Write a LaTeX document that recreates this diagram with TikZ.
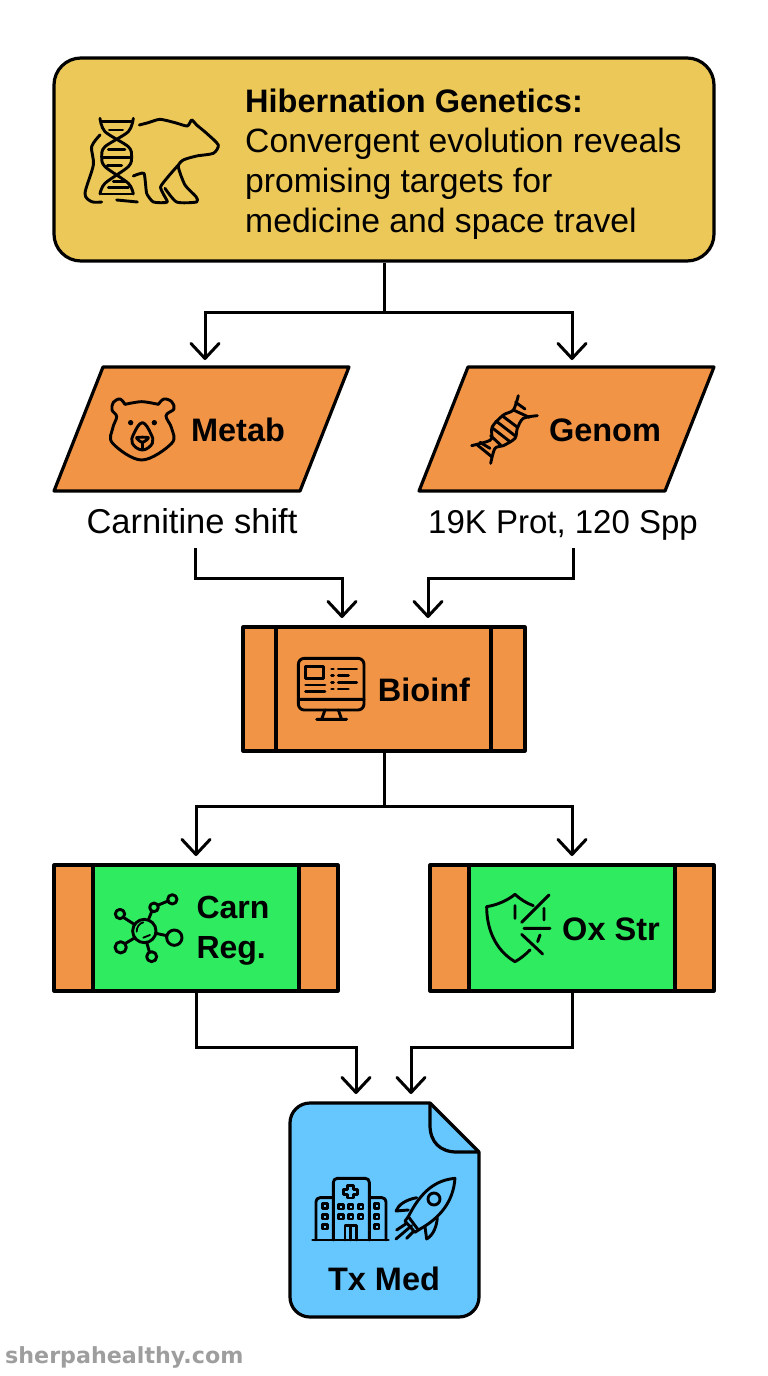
\documentclass[tikz,border=0pt]{standalone}
\usepackage{fontspec}
\setmainfont{Liberation Sans}
\newfontfamily\markfont{DejaVu Sans}
\usetikzlibrary{arrows.meta, positioning}

\definecolor{hypyellow}{HTML}{ECC858}
\definecolor{stepor}{HTML}{F19445}
\definecolor{regreen}{HTML}{2EEB60}
\definecolor{medblue}{HTML}{66C7FF}

\tikzset{
  outline/.style={draw=black, line width=3.2pt, line join=round},
  proc/.style={outline, fill=stepor, inner sep=0pt},
  icon/.style={line width=2.9pt, line cap=round, line join=round},
  lbl/.style={font=\fontsize{32.5}{38}\selectfont\bfseries, inner sep=0pt},
  captxt/.style={font=\fontsize{33}{38}\selectfont, inner sep=0pt, anchor=base},
  link/.style={line width=3pt, ->},
  zoomed/.style={x=0.3333pt, y=-0.3333pt}
}

\begin{document}
\begin{tikzpicture}[x=1pt, y=-1pt, >={Straight Barb[length=15pt, width=28pt, line width=3pt, round]}]
\useasboundingbox (0,0) rectangle (768,1376);

% Top box
\node[outline, fill=hypyellow, rounded corners=27pt, minimum width=660pt, minimum height=203pt] (hyp) at (384,159.5) {};
\node[anchor=north west, align=left, inner sep=0pt, font=\fontsize{33.7}{39.8}\selectfont] (hyptxt) at (245,89) {{\fontsize{32.5}{39.8}\selectfont\bfseries Hibernation Genetics:}\\Convergent evolution reveals\\promising targets for\\medicine and space travel};

\begin{scope}[shift={(50,50)}, zoomed]
\draw[icon] plot[smooth] coordinates {(150,205) (165,245) (235,290) (245,320) (235,350) (165,400) (150,432)};
\draw[icon] plot[smooth] coordinates {(250,205) (235,245) (165,290) (155,320) (165,350) (235,400) (250,432)};
\draw[icon] (155,215) -- (245,215) (178,240) -- (218,240) (175,298) -- (225,298) (158,322) -- (245,322) (172,346) -- (215,346) (190,395) -- (225,395) (175,412) -- (235,412) (155,432) -- (248,432);
\draw[icon] plot[smooth] coordinates {(150,255) (125,290) (130,345) (105,430) (125,455) (155,456)};
\draw[icon] (200,450) -- (262,456);
\draw[icon] plot[smooth, tension=0.4] coordinates {(268,225) (295,218) (330,208) (375,218) (412,228) (425,210) (440,225) (470,250) (505,285) (490,310) (440,318) (400,330) (385,350) (405,405) (438,440) (440,456) (380,456) (345,415)};
\draw[icon] plot[smooth, tension=0.3] coordinates {(250,378) (282,370) (290,430) (310,456) (352,456) (332,410) (385,345)};
\end{scope}

% Left input
\draw[outline, fill=stepor] (103,367) -- (349,367) -- (300,491) -- (54,491) -- cycle;
\node[lbl] (metab) at (238,430) {Metab};
\node[captxt, font=\fontsize{34.5}{38}\selectfont] (carnit) at (192,533) {Carnitine shift};

\begin{scope}[shift={(90,385)}, zoomed]
\draw[icon] plot[smooth, tension=0.6] coordinates {(105,58) (90,42) (70,52) (66,75) (80,95) (68,130) (68,175) (155,225) (245,175) (245,130) (228,92) (252,72) (245,50) (222,42) (205,58)};
\draw[icon] plot[smooth] coordinates {(105,58) (155,50) (205,58)};
\fill (122,113) circle[radius=8];
\fill (193,113) circle[radius=8];
\draw[icon] plot[smooth cycle, tension=0.7] coordinates {(157,113) (132,145) (127,175) (157,195) (187,175) (182,145)};
\draw[icon] plot[smooth cycle, tension=0.5] coordinates {(140,158) (175,158) (157,172)};
\draw[icon] (157,172) -- (157,190);
\end{scope}

% Right input
\draw[outline, fill=stepor] (468,367) -- (714,367) -- (665,491) -- (419,491) -- cycle;
\node[lbl] (genom) at (605,430) {Genom};
\node[captxt] (prot) at (563,533) {19K Prot, 120 Spp};

\begin{scope}[shift={(460,385)}, zoomed]
\draw[icon] plot[smooth, tension=0.5] coordinates {(175,32) (160,75) (130,90) (97,125) (95,160) (80,170) (35,182)};
\draw[icon] plot[smooth, tension=0.5] coordinates {(232,92) (190,100) (172,130) (165,160) (130,182) (105,190) (92,235)};
\draw[icon] (130,95) -- (170,125) (108,108) -- (165,152) (96,128) -- (150,170) (92,152) -- (122,180);
\draw[icon] (167,52) -- (195,72) (160,75) -- (208,97) (60,172) -- (90,190) (52,180) -- (95,215);
\end{scope}

% Middle step
\node[proc, minimum width=282pt, minimum height=124pt] (bioinf) at (384,689) {};
\node[proc, minimum width=215pt, minimum height=124pt] (bioinfin) at (383.5,689) {};
\node[lbl] (bioinftxt) at (424,690) {Bioinf};

\begin{scope}[shift={(240,620)}, zoomed]
\draw[icon, rounded corners=6pt] (175,115) rectangle (372,270);
\draw[icon] (175,238) -- (372,238) (255,270) -- (245,298) (295,270) -- (305,298) (230,298) -- (320,298);
\draw[icon] (197,140) rectangle (250,175);
\draw[icon] (197,195) -- (255,195) (197,215) -- (255,215);
\draw[icon] (275,147) -- (280,147) (275,167) -- (280,167) (275,187) -- (280,187) (275,207) -- (280,207);
\draw[icon] (295,147) -- (350,147) (295,167) -- (325,167) (295,187) -- (350,187) (295,207) -- (325,207);
\end{scope}

% Lower steps
\node[proc, minimum width=284pt, minimum height=126pt] (carn) at (196,928) {};
\node[proc, fill=regreen, minimum width=206pt, minimum height=126pt] (carnin) at (196,928) {};
\node[lbl, align=left, font=\fontsize{32}{40}\selectfont\bfseries] (carntxt) at (233,931) {Carn\\Reg.};

\begin{scope}[shift={(105,885)}, zoomed]
\draw[icon] (118,138) circle[radius=35];
\draw[icon] (45,87) circle[radius=14];
\draw[icon] (147,67) circle[radius=13];
\draw[icon] (202,43) circle[radius=14];
\draw[icon] (208,158) circle[radius=23];
\draw[icon] (47,187) circle[radius=17];
\draw[icon] (140,215) circle[radius=15];
\draw[icon] (55,97) -- (88,118) (140,80) -- (130,105) (160,60) -- (189,48) (153,145) -- (185,152) (60,176) -- (90,158) (133,200) -- (125,172);
\draw[line width=1.8pt, line cap=round] (95,140) .. controls (95,125) and (103,115) .. (115,112) (115,158) -- (135,150);
\end{scope}

\node[proc, minimum width=284pt, minimum height=126pt] (oxstr) at (572,928) {};
\node[proc, fill=regreen, minimum width=206pt, minimum height=126pt] (oxin) at (572,928) {};
\node[lbl] (oxtxt) at (611,929) {Ox Str};

\begin{scope}[shift={(475,885)}, zoomed]
\draw[icon] (175,62) .. controls (155,55) and (135,42) .. (120,28) .. controls (95,48) and (65,60) .. (35,65) .. controls (35,130) and (60,195) .. (120,230) .. controls (135,222) and (150,210) .. (165,195);
\draw[icon] (222,30) -- (140,112) (120,62) -- (120,100) (207,70) -- (207,105) (147,130) -- (225,130) (140,148) -- (203,207) (195,150) -- (188,170);
\end{scope}

% Output
\draw[outline, fill=medblue] (430,1103) -- (479,1152) [rounded corners=20pt] -- (479,1317) -- (290,1317) -- (290,1103) -- (360,1103) [sharp corners] -- (430,1103) -- cycle;
\draw[outline] (430,1103) -- (430,1125) .. controls (430,1142) and (440,1152) .. (457,1152) -- (479,1152);
\node[lbl] (txmed) at (384,1279) {Tx Med};
\coordinate (txleft) at (356,1094);
\coordinate (txright) at (411,1094);

\begin{scope}[shift={(280,1095)}, zoomed]
\draw[icon] (98,435) -- (325,435);
\draw[icon, rounded corners=4pt] (160,435) -- (160,250) -- (268,250) -- (268,435);
\draw[icon, rounded corners=4pt] (108,435) -- (108,308) -- (160,308) (268,308) -- (318,308) -- (318,435);
\draw[icon] (203,272) -- (221,272) -- (221,283) -- (233,283) -- (233,298) -- (221,298) -- (221,309) -- (203,309) -- (203,298) -- (191,298) -- (191,283) -- (203,283) -- cycle;
\draw[icon] (176,328) rectangle (190,342) (205,328) rectangle (219,342) (235,328) rectangle (249,342);
\draw[icon] (176,358) rectangle (190,372) (205,358) rectangle (219,372) (235,358) rectangle (249,372);
\draw[icon] (128,326) rectangle (142,340) (128,358) rectangle (142,372) (128,388) rectangle (142,402);
\draw[icon] (283,326) rectangle (297,340) (283,358) rectangle (297,372) (283,388) rectangle (297,402);
\draw[icon] (195,435) -- (195,392) -- (230,392) -- (230,435) (212,392) -- (212,435);
\draw[icon] (525,250) .. controls (470,255) and (425,285) .. (385,365) -- (415,405) .. controls (480,370) and (520,320) .. (525,250) -- cycle;
\draw[icon] (462,312) circle[radius=18];
\draw[icon] (410,308) .. controls (375,315) and (355,330) .. (348,348) -- (385,345);
\draw[icon] (472,368) .. controls (470,395) and (460,420) .. (440,432) -- (435,395);
\draw[icon] (385,365) -- (375,378) -- (405,412) -- (415,405);
\draw[icon] (350,405) -- (380,385) (348,432) -- (395,392) (380,430) -- (400,410);
\end{scope}

% Connectors
\coordinate (hypsplit) at (384,312);
\coordinate (metabin) at (205,360);
\coordinate (genomin) at (572,360);
\draw[link] (hyp.south) -- (hypsplit) -| (metabin);
\draw[link] (hypsplit) -| (genomin);

\coordinate (carnitout) at (195,548);
\coordinate (protout) at (573,548);
\coordinate (carnitbend) at (195,578);
\coordinate (protbend) at (573,578);
\coordinate (bioleft) at (342,618);
\coordinate (bioright) at (428,618);
\draw[link] (carnitout) -- (carnitbend) -| (bioleft);
\draw[link] (protout) -- (protbend) -| (bioright);

\coordinate (biosplit) at (384,806);
\coordinate (carnup) at (196,856);
\coordinate (oxup) at (572,856);
\draw[link] (bioinf.south) -- (biosplit) -| (carnup);
\draw[link] (biosplit) -| (oxup);

\coordinate (carnbend) at (196,1047);
\coordinate (oxbend) at (572,1047);
\draw[link] (carn.south) -- (carnbend) -| (txleft);
\draw[link] (oxstr.south) -- (oxbend) -| (txright);

% Watermark
\node[anchor=west, inner sep=0pt, text=black!38, font=\markfont\fontsize{22.2}{24}\selectfont\bfseries] (mark) at (5,1357) {sherpahealthy.com};

\end{tikzpicture}
\end{document}
